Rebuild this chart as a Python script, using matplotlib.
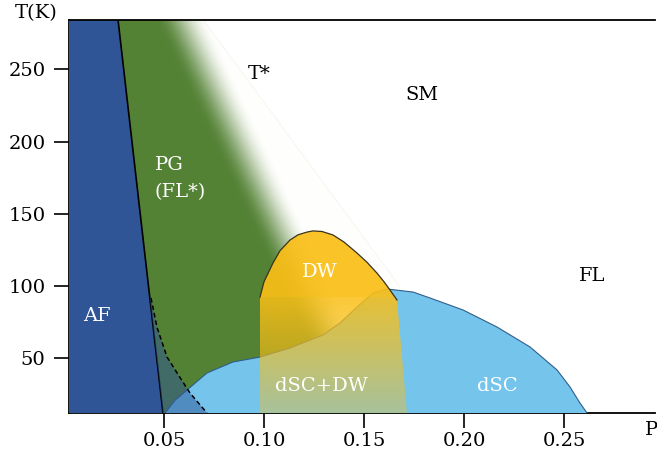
import numpy as np
import matplotlib
matplotlib.use("Agg")
import matplotlib.pyplot as plt
from matplotlib.patches import Polygon

plt.rcParams['font.family'] = ['DejaVu Serif']

# axis ticks
x_ticks = [0.05, 0.10, 0.15, 0.20, 0.25]
x_tick_labels = ['0.05', '0.10', '0.15', '0.20', '0.25']
y_ticks = [50, 100, 150, 200, 250]
y_tick_labels = ['50', '100', '150', '200', '250']

P_MIN, P_MAX = 0.0025, 0.2955
T_MIN, T_MAX = 12.2, 284.5

# AF boundary (doping, temperature)
af_line_p = [0.027, 0.0495]
af_line_T = [T_MAX, T_MIN]

# dashed line inside PG near AF
dash_p = [0.0435, 0.0465, 0.0515, 0.0565, 0.063, 0.0715]
dash_T = [91.8, 71.5, 51.0, 40.0, 26.0, T_MIN]

# superconducting dome
dsc_p = [0.0505, 0.0555, 0.0615, 0.0715, 0.0845, 0.098, 0.113, 0.1295, 0.138, 0.1465,
         0.1545, 0.1615, 0.1745, 0.183, 0.1995, 0.2165, 0.233, 0.2465, 0.253,
         0.258, 0.2615]
dsc_T = [T_MIN, 21.0, 28.1, 39.9, 47.5, 50.9, 57.2, 66.2, 74.5, 85.5, 95.2, 98.0, 95.9,
         91.8, 83.5, 71.7, 57.9, 42.0, 30.2, 19.1, T_MIN]

# density wave dome
dw_p = [0.098, 0.100, 0.1045, 0.108, 0.113, 0.117, 0.1215, 0.1245, 0.129, 0.1345,
        0.140, 0.1465, 0.1515, 0.1565, 0.160, 0.163, 0.1665]
dw_T = [92.4, 103.0, 116.0, 124.5, 131.9, 135.5, 137.4, 138.2, 137.8, 135.4,
        130.5, 122.9, 116.5, 109.0, 103.0, 97.3, 90.4]
dw_base_p = [0.1715, 0.098]
dw_split_T = 92.4

# T* crossover: faint SM edge and centre of the PG fade
tstar_p = [0.0695, 0.168]
tstar_T = [T_MAX, 99.5]
fade_center_p = 0.0585
fade_slope = 0.00034
fade_width = 0.026

labels = [
    ('T*', 0.0975, 246.8, 'black', 'center'),
    ('SM', 0.179, 232.2, 'black', 'center'),
    ('PG', 0.0455, 183.8, 'white', 'left'),
    ('(FL*)', 0.0455, 165.1, 'white', 'left'),
    ('AF', 0.0165, 79.3, 'white', 'center'),
    ('DW', 0.128, 109.7, 'white', 'center'),
    ('FL', 0.264, 107.0, 'black', 'center'),
    ('dSC+DW', 0.1285, 30.9, 'white', 'center'),
    ('dSC', 0.2165, 30.9, 'white', 'center'),
]

fig = plt.figure(figsize=(6.57, 4.57), dpi=100)
ax = fig.add_axes([69 / 657, 44 / 457, 586 / 657, 393.5 / 457])
ax.set_xlim(P_MIN, P_MAX)
ax.set_ylim(T_MIN, T_MAX)

# faint SM region left of T*
sm_poly = Polygon([(af_line_p[0], T_MAX), (tstar_p[0], tstar_T[0]), (tstar_p[1], tstar_T[1]),
                   (tstar_p[1], T_MIN), (af_line_p[1], T_MIN)],
                  closed=True, facecolor='#fefefc', edgecolor='none', zorder=1)
ax.add_patch(sm_poly)
ax.plot(tstar_p, tstar_T, color='#f4f4f0', lw=0.6, zorder=1.1)

# pseudogap with gradient fade
pp, tt = np.meshgrid(np.linspace(P_MIN, P_MAX, 700), np.linspace(T_MIN, T_MAX, 450))
centre = fade_center_p + (T_MAX - tt) * fade_slope
u = np.clip((pp - centre) / fade_width + 0.5, 0, 1)
alpha = 1 - (3 * u ** 2 - 2 * u ** 3)
green = np.array([0x54, 0x82, 0x35]) / 255
img = np.zeros(pp.shape + (4,))
img[..., :3] = green
img[..., 3] = alpha
ax.imshow(img, extent=[P_MIN, P_MAX, T_MIN, T_MAX], origin='lower', aspect='auto',
          interpolation='bilinear', zorder=2)

# AF region
af_poly = Polygon([(P_MIN, T_MAX), (af_line_p[0], af_line_T[0]), (af_line_p[1], af_line_T[1]),
                   (P_MIN, T_MIN)], closed=True, facecolor='#2f5597', edgecolor='none', zorder=3)
ax.add_patch(af_poly)
ax.plot(af_line_p, af_line_T, color='black', lw=1.2, zorder=3.5)

# dSC dome
dsc_poly = Polygon(list(zip(dsc_p, dsc_T)), closed=True, facecolor='#75c4ec',
                   edgecolor='none', zorder=4)
ax.add_patch(dsc_poly)
ax.plot(dsc_p, dsc_T, color='#2e5f8c', lw=0.8, zorder=4.2)

# translucent AF tail between AF line and dashed line
frac = (T_MAX - dash_T[0]) / (T_MAX - T_MIN)
p_top = af_line_p[0] + frac * (af_line_p[1] - af_line_p[0])
tail = [(p_top, dash_T[0]), (af_line_p[1], T_MIN)] + list(zip(dash_p[::-1], dash_T[::-1]))
ax.add_patch(Polygon(tail, closed=True, facecolor='#2f5597', alpha=0.5,
                     edgecolor='none', zorder=5))
ax.plot(dash_p, dash_T, color='black', lw=1.1, ls=(0, (3, 2)), zorder=5.2)

# DW region: translucent yellow, fading towards low T
dw_verts = list(zip(dw_p, dw_T)) + [(dw_base_p[0], T_MIN), (dw_base_p[1], T_MIN)]
dw_clip = Polygon(dw_verts, closed=True, facecolor='none', edgecolor='none')
ax.add_patch(dw_clip)
ext = [0.095, 0.175, T_MIN, 140]
qp, qt = np.meshgrid(np.linspace(ext[0], ext[1], 200), np.linspace(ext[2], ext[3], 300))
yellow = np.array([250, 191, 22]) / 255
dw_img = np.zeros(qp.shape + (4,))
dw_img[..., :3] = yellow
a = 0.38 + (0.86 - 0.38) * (qt - T_MIN) / (dw_split_T - T_MIN)
dw_img[..., 3] = np.where(qt >= dw_split_T, 0.92, a)
im2 = ax.imshow(dw_img, extent=ext, origin='lower', aspect='auto',
                interpolation='nearest', zorder=6)
im2.set_clip_path(dw_clip)
ax.plot(dw_p, dw_T, color='#3a3320', lw=0.9, zorder=6.5)

for txt, x, y, c, ha in labels:
    ax.text(x, y, txt, color=c, ha=ha, va='center', fontsize=14, zorder=10)

ax.text(-0.014, 289, 'T(K)', ha='center', va='center', fontsize=14, clip_on=False)
ax.text(0.2905, 0.4, 'P', ha='left', va='center', fontsize=14, clip_on=False)

ax.set_xticks(x_ticks)
ax.set_xticklabels(x_tick_labels)
ax.set_yticks(y_ticks)
ax.set_yticklabels(y_tick_labels)
ax.tick_params(direction='out', length=11, width=1.2, labelsize=14)
ax.tick_params(axis='y', pad=6)
ax.tick_params(axis='x', pad=3)

for side in ['left', 'top', 'bottom']:
    ax.spines[side].set_linewidth(1.3)
    ax.spines[side].set_zorder(0.5)
ax.spines['top'].set_zorder(8)
ax.spines['right'].set_visible(False)

fig.savefig('out.png', dpi=100)
